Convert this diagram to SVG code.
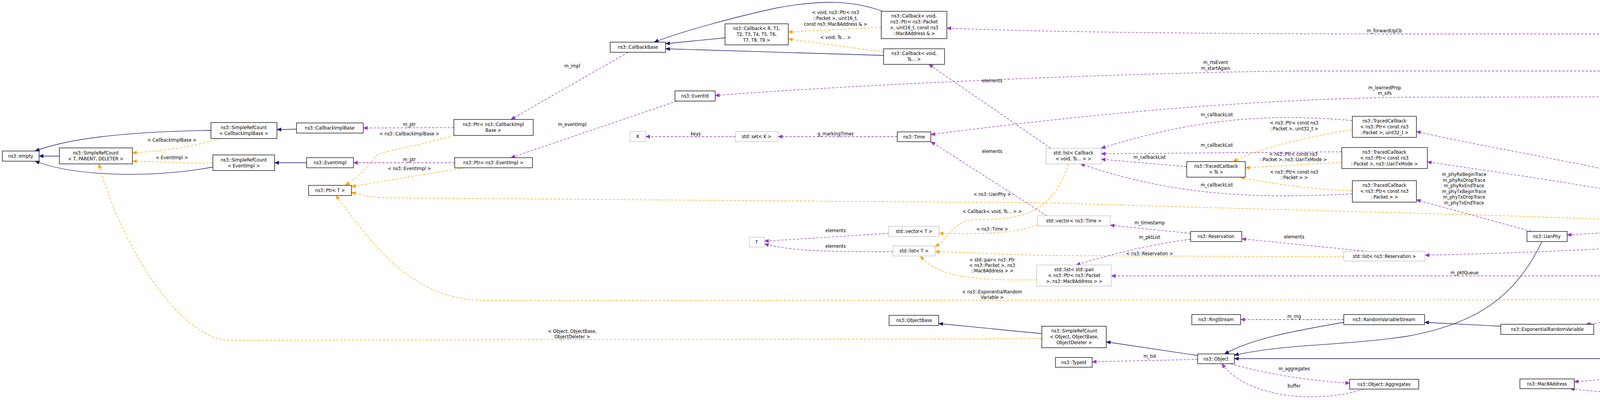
<svg xmlns="http://www.w3.org/2000/svg" width="4672" height="1025" viewBox="0 0 4672 1025">
<style>
text{font-family:"DejaVu Sans Condensed","DejaVu Sans",sans-serif;font-size:12.5px;fill:#000;text-anchor:middle}
.n rect{fill:#fff;stroke:#000;stroke-width:1.3}
.g rect{fill:#fff;stroke:#bfbfbf;stroke-width:1.3}
.cur rect{fill:#bfbfbf;stroke:#000;stroke-width:1.3}
.i{fill:none;stroke:#191970;stroke-width:1.3;marker-end:url(#mi)}
.m{fill:none;stroke:#9a32cd;stroke-width:1.3;stroke-dasharray:6,4;marker-end:url(#mm)}
.t{fill:none;stroke:#ffa500;stroke-width:1.3;stroke-dasharray:6,4;marker-end:url(#mt)}
</style>
<defs>
<marker id="mi" markerWidth="12" markerHeight="10" refX="11" refY="5" orient="auto" markerUnits="userSpaceOnUse"><path d="M0,0 L12,5 L0,10 z" fill="#191970"/></marker>
<marker id="mm" markerWidth="12" markerHeight="10" refX="11" refY="5" orient="auto" markerUnits="userSpaceOnUse"><path d="M0,0 L12,5 L0,10 z" fill="#9a32cd"/></marker>
<marker id="mt" markerWidth="12" markerHeight="10" refX="11" refY="5" orient="auto" markerUnits="userSpaceOnUse"><path d="M0,0 L12,5 L0,10 z" fill="#ffa500"/></marker>
</defs>
<rect width="4672" height="1025" fill="#fff"/>
<g id="edges">
<path class="i" d="M152,400 L100,400"/>
<path class="i" d="M540,334 C400,336 200,345 90,387"/>
<path class="i" d="M545,428 C400,455 200,455 90,413"/>
<path class="i" d="M759,331 L709,332"/>
<path class="i" d="M785,417 L703,417"/>
<path class="i" d="M1856,97 L1704,112"/>
<path class="i" d="M2260,29 C2180,0 2100,0 1990,20 C1850,50 1720,90 1675,108"/>
<path class="i" d="M2262,142 L1704,125"/>
<path class="i" d="M2667,855 L2403,829"/>
<path class="i" d="M3066,911 L2832,876"/>
<path class="i" d="M3440,826 C3300,850 3200,870 3135,907"/>
<path class="i" d="M3947,620 C3880,760 3780,830 3600,862 C3420,888 3300,880 3160,910"/>
<path class="i" d="M4299,919 L3160,919"/>
<path class="i" d="M4605,594 C4580,750 4460,850 4375,907"/>
<path class="i" d="M3842,836 L3647,826"/>
<path class="t" d="M563,355 C480,380 400,388 339,392"/>
<path class="t" d="M545,418 C450,418 400,414 339,413"/>
<path class="t" d="M2667,868 L591,872 C450,872 300,600 253,420"/>
<path class="t" d="M1162,347 C1050,380 980,385 962,400 C940,430 920,450 884,475"/>
<path class="t" d="M1187,430 L900,478"/>
<path class="t" d="M4253,571 C4100,555 3300,540 2700,520 L1000,507 C950,507 930,500 900,493"/>
<path class="t" d="M4253,768 L1244,770 C1050,770 950,620 860,501"/>
<path class="t" d="M2256,70 L2018,82"/>
<path class="t" d="M2262,133 L2018,100"/>
<path class="t" d="M2736,420 C2700,520 2650,565 2510,562 C2440,560 2430,610 2394,632"/>
<path class="t" d="M2656,575 C2600,600 2500,600 2404,598"/>
<path class="t" d="M2654,717 C2500,720 2400,710 2356,656"/>
<path class="t" d="M3440,658 L2700,655 C2550,652 2450,645 2394,645"/>
<path class="t" d="M3462,332 C3350,350 3220,380 3157,414"/>
<path class="t" d="M3435,416 L3188,430"/>
<path class="t" d="M3462,489 C3350,485 3250,470 3175,454"/>
<path class="m" d="M1608,134 L1308,306"/>
<path class="m" d="M1162,327 L930,328"/>
<path class="m" d="M1164,417 L905,417"/>
<path class="m" d="M1733,259 L1308,404"/>
<path class="m" d="M1883,350 L1653,350"/>
<path class="m" d="M2297,350 L1992,350"/>
<path class="m" d="M2690,380 L2378,165"/>
<path class="m" d="M2275,598 L1957,618"/>
<path class="m" d="M2286,645 C2150,645 2030,645 1957,625"/>
<path class="m" d="M2680,553 L2383,363"/>
<path class="m" d="M4610,568 C4600,400 4560,182 4370,182 L3300,182 C2700,190 2000,230 1831,245"/>
<path class="m" d="M4620,568 C4610,300 4560,87 4377,87 L3600,87 C3000,87 2600,80 2424,72"/>
<path class="m" d="M4603,568 C4590,400 4540,248 4370,248 L3600,249 C3200,255 2800,290 2383,345"/>
<path class="m" d="M3462,309 C3300,295 3100,290 2819,380"/>
<path class="m" d="M3435,389 L2819,394"/>
<path class="m" d="M3038,427 L2819,408"/>
<path class="m" d="M3462,497 C3200,510 3000,500 2766,420"/>
<path class="m" d="M4560,568 C4300,450 3900,400 3626,337"/>
<path class="m" d="M4550,572 C4300,510 3900,450 3654,415"/>
<path class="m" d="M3920,593 L3626,512"/>
<path class="m" d="M4550,581 L4444,581"/>
<path class="m" d="M4260,587 L4012,602"/>
<path class="m" d="M4550,592 C4300,640 3800,650 3648,654"/>
<path class="m" d="M3500,644 L3179,612"/>
<path class="m" d="M3048,598 L2842,577"/>
<path class="m" d="M3048,613 C2950,625 2850,650 2755,679"/>
<path class="m" d="M4590,594 C4550,650 4480,707 4370,707 L2845,707"/>
<path class="m" d="M4590,594 C4560,680 4510,740 4449,765"/>
<path class="m" d="M4283,788 C4200,810 4120,825 4060,831"/>
<path class="m" d="M3440,819 L3176,819"/>
<path class="m" d="M3066,921 L2796,927"/>
<path class="m" d="M3150,932 C3250,960 3350,975 3455,982"/>
<path class="m" d="M3490,997 C3400,1030 3200,1030 3128,932"/>
<path class="m" d="M4310,932 C4200,960 4100,975 4030,978"/>
<path class="m" d="M4620,594 C4620,800 4500,1020 4300,1015 C4150,1010 4050,1000 4020,996"/>
</g>
<g id="labels">
<text x="440" y="363">&lt; CallbackImplBase &gt;</text>
<text x="440" y="408">&lt; EventImpl &gt;</text>
<text x="1465" y="853">&lt; Object, ObjectBase,</text>
<text x="1465" y="867">ObjectDeleter &gt;</text>
<text x="1048" y="323">m_ptr</text>
<text x="1048" y="347">&lt; ns3::CallbackImplBase &gt;</text>
<text x="1048" y="413">m_ptr</text>
<text x="1048" y="436">&lt; ns3::EventImpl &gt;</text>
<text x="1465" y="173">m_impl</text>
<text x="1465" y="323">m_eventImpl</text>
<text x="1781" y="347">keys</text>
<text x="2139" y="36">&lt; void, ns3::Ptr&lt; ns3</text>
<text x="2139" y="51">::Packet &gt;, uint16_t,</text>
<text x="2139" y="66">const ns3::Mac8Address &amp; &gt;</text>
<text x="2139" y="100">&lt; void, Ts... &gt;</text>
<text x="2540" y="211">elements</text>
<text x="2540" y="392">elements</text>
<text x="2139" y="347">g_markingTimes</text>
<text x="2540" y="502">&lt; ns3::UanPhy &gt;</text>
<text x="2139" y="595">elements</text>
<text x="2139" y="635">elements</text>
<text x="2540" y="546">&lt; Callback&lt; void, Ts... &gt; &gt;</text>
<text x="2540" y="591">&lt; ns3::Time &gt;</text>
<text x="2540" y="670">&lt; std::pair&lt; ns3::Ptr</text>
<text x="2540" y="684">&lt; ns3::Packet &gt;, ns3</text>
<text x="2540" y="698">::Mac8Address &gt; &gt;</text>
<text x="2540" y="752">&lt; ns3::ExponentialRandom</text>
<text x="2540" y="766">Variable &gt;</text>
<text x="3544" y="83">m_forwardUpCb</text>
<text x="3112" y="164">m_rtsEvent</text>
<text x="3112" y="179">m_startAgain</text>
<text x="3545" y="229">m_learnedProp</text>
<text x="3545" y="243">m_sifs</text>
<text x="3115" y="298">m_callbackList</text>
<text x="3115" y="376">m_callbackList</text>
<text x="2943" y="407">m_callbackList</text>
<text x="3115" y="478">m_callbackList</text>
<text x="3313" y="319">&lt; ns3::Ptr&lt; const ns3</text>
<text x="3313" y="334">::Packet &gt;, uint32_t &gt;</text>
<text x="3311" y="399">&lt; ns3::Ptr&lt; const ns3</text>
<text x="3311" y="413">::Packet &gt;, ns3::UanTxMode &gt;</text>
<text x="3313" y="445">&lt; ns3::Ptr&lt; const ns3</text>
<text x="3313" y="459">::Packet &gt; &gt;</text>
<text x="4167" y="400">m_dequeueLogger</text>
<text x="4167" y="415">m_enqueueLogger</text>
<text x="4168" y="475">m_rxLogger</text>
<text x="3748" y="451">m_phyRxBeginTrace</text>
<text x="3748" y="465.5">m_phyRxDropTrace</text>
<text x="3748" y="480">m_phyRxEndTrace</text>
<text x="3748" y="494.5">m_phyTxBeginTrace</text>
<text x="3748" y="509">m_phyTxDropTrace</text>
<text x="3748" y="523.5">m_phyTxEndTrace</text>
<text x="4500" y="577">m_phy</text>
<text x="4169" y="585">m_ptr</text>
<text x="4169" y="622">m_resList</text>
<text x="3749" y="703">m_pktQueue</text>
<text x="4500" y="736">m_ev</text>
<text x="4169" y="798">m_ptr</text>
<text x="4169" y="949">m_address</text>
<text x="4354" y="955">m_assocAddr</text>
<text x="2943" y="575">m_timestamp</text>
<text x="2943" y="612">m_pktList</text>
<text x="2943" y="654">&lt; ns3::Reservation &gt;</text>
<text x="3313" y="611">elements</text>
<text x="3313" y="815">m_rng</text>
<text x="2943" y="917">m_tid</text>
<text x="3313" y="949">m_aggregates</text>
<text x="3313" y="993">buffer</text>
</g>
<g id="empty" class="n"><rect x="6" y="387" width="94" height="26"/><text x="53" y="404">ns3::empty</text></g>
<g id="srcTPD" class="n"><rect x="152" y="379" width="187" height="41"/><text x="245" y="396">ns3::SimpleRefCount</text><text x="245" y="411">&lt; T, PARENT, DELETER &gt;</text></g>
<g id="srcCIB" class="n"><rect x="540" y="314" width="169" height="41"/><text x="624" y="331">ns3::SimpleRefCount</text><text x="624" y="346">&lt; CallbackImplBase &gt;</text></g>
<g id="srcEI" class="n"><rect x="545" y="397" width="158" height="40"/><text x="624" y="414">ns3::SimpleRefCount</text><text x="624" y="429">&lt; EventImpl &gt;</text></g>
<g id="cib" class="n"><rect x="759" y="315" width="171" height="26"/><text x="844" y="332">ns3::CallbackImplBase</text></g>
<g id="ei" class="n"><rect x="785" y="404" width="120" height="26"/><text x="845" y="421">ns3::EventImpl</text></g>
<g id="ptrT" class="n"><rect x="790" y="475" width="110" height="26"/><text x="845" y="492">ns3::Ptr&lt; T &gt;</text></g>
<g id="cbBase" class="n"><rect x="1562" y="108" width="142" height="26"/><text x="1633" y="125">ns3::CallbackBase</text></g>
<g id="ptrCIB" class="n"><rect x="1162" y="306" width="203" height="41"/><text x="1263" y="323">ns3::Ptr&lt; ns3::CallbackImpl</text><text x="1263" y="338">Base &gt;</text></g>
<g id="ptrEI" class="n"><rect x="1164" y="404" width="199" height="26"/><text x="1263" y="421">ns3::Ptr&lt; ns3::EventImpl &gt;</text></g>
<g id="eventId" class="n"><rect x="1728" y="233" width="103" height="26"/><text x="1779" y="250">ns3::EventId</text></g>
<g id="K" class="g"><rect x="1613" y="337" width="40" height="26"/><text x="1633" y="354">K</text></g>
<g id="cbR" class="n"><rect x="1856" y="61" width="162" height="54"/><text x="1937" y="77">ns3::Callback&lt; R, T1,</text><text x="1937" y="92">T2, T3, T4, T5, T6,</text><text x="1937" y="107">T7, T8, T9 &gt;</text></g>
<g id="cbVP" class="n"><rect x="2256" y="29" width="168" height="70"/><text x="2340" y="45">ns3::Callback&lt; void,</text><text x="2340" y="60">ns3::Ptr&lt; ns3::Packet</text><text x="2340" y="75">&gt;, uint16_t, const ns3</text><text x="2340" y="90">::Mac8Address &amp; &gt;</text></g>
<g id="cbVT" class="n"><rect x="2262" y="125" width="156" height="40"/><text x="2340" y="141">ns3::Callback&lt; void,</text><text x="2340" y="156">Ts... &gt;</text></g>
<g id="setK" class="g"><rect x="1883" y="337" width="109" height="26"/><text x="1937" y="354">std::set&lt; K &gt;</text></g>
<g id="time" class="n"><rect x="2297" y="338" width="86" height="25"/><text x="2340" y="355">ns3::Time</text></g>
<g id="listCb" class="g"><rect x="2678" y="380" width="141" height="40"/><text x="2748" y="396">std::list&lt; Callback</text><text x="2748" y="411">&lt; void, Ts... &gt; &gt;</text></g>
<g id="T" class="g"><rect x="1918" y="608" width="39" height="25"/><text x="1937" y="625">T</text></g>
<g id="vecT" class="g"><rect x="2275" y="580" width="129" height="26"/><text x="2340" y="597">std::vector&lt; T &gt;</text></g>
<g id="listT" class="g"><rect x="2286" y="630" width="108" height="26"/><text x="2340" y="647">std::list&lt; T &gt;</text></g>
<g id="objBase" class="n"><rect x="2276" y="808" width="127" height="26"/><text x="2340" y="825">ns3::ObjectBase</text></g>
<g id="srcObj" class="n"><rect x="2667" y="836" width="165" height="55"/><text x="2750" y="852">ns3::SimpleRefCount</text><text x="2750" y="867">&lt; Object, ObjectBase,</text><text x="2750" y="882">ObjectDeleter &gt;</text></g>
<g id="vecTime" class="g"><rect x="2656" y="553" width="186" height="26"/><text x="2749" y="570">std::vector&lt; ns3::Time &gt;</text></g>
<g id="listPair" class="g"><rect x="2654" y="679" width="191" height="54"/><text x="2750" y="695">std::list&lt; std::pair</text><text x="2750" y="710">&lt; ns3::Ptr&lt; ns3::Packet</text><text x="2750" y="725">&gt;, ns3::Mac8Address &gt; &gt;</text></g>
<g id="tc32" class="n"><rect x="3462" y="298" width="164" height="54"/><text x="3544" y="314">ns3::TracedCallback</text><text x="3544" y="329">&lt; ns3::Ptr&lt; const ns3</text><text x="3544" y="344">::Packet &gt;, uint32_t &gt;</text></g>
<g id="tcMode" class="n"><rect x="3435" y="378" width="219" height="54"/><text x="3544" y="394">ns3::TracedCallback</text><text x="3544" y="409">&lt; ns3::Ptr&lt; const ns3</text><text x="3544" y="424">::Packet &gt;, ns3::UanTxMode &gt;</text></g>
<g id="tcPkt" class="n"><rect x="3462" y="463" width="164" height="55"/><text x="3544" y="479">ns3::TracedCallback</text><text x="3544" y="494">&lt; ns3::Ptr&lt; const ns3</text><text x="3544" y="509">::Packet &gt; &gt;</text></g>
<g id="tcTs" class="n"><rect x="3038" y="414" width="150" height="40"/><text x="3113" y="430">ns3::TracedCallback</text><text x="3113" y="445">&lt; Ts &gt;</text></g>
<g id="uanMacRc" class="cur"><rect x="4550" y="568" width="120" height="26"/><text x="4610" y="585">ns3::UanMacRc</text></g>
<g id="ptrUanPhy" class="n"><rect x="4260" y="568" width="184" height="26"/><text x="4352" y="585">ns3::Ptr&lt; ns3::UanPhy &gt;</text></g>
<g id="uanPhy" class="n"><rect x="3909" y="593" width="103" height="26"/><text x="3960" y="610">ns3::UanPhy</text></g>
<g id="listRes" class="g"><rect x="3440" y="644" width="208" height="25"/><text x="3544" y="661">std::list&lt; ns3::Reservation &gt;</text></g>
<g id="ptrERV" class="n"><rect x="4254" y="748" width="195" height="40"/><text x="4351" y="764">ns3::Ptr&lt; ns3::Exponential</text><text x="4351" y="779">RandomVariable &gt;</text></g>
<g id="erv" class="n"><rect x="3842" y="831" width="238" height="26"/><text x="3961" y="848">ns3::ExponentialRandomVariable</text></g>
<g id="uanMac" class="n"><rect x="4299" y="907" width="106" height="25"/><text x="4352" y="924">ns3::UanMac</text></g>
<g id="mac8" class="n"><rect x="3891" y="971" width="139" height="25"/><text x="3960" y="988">ns3::Mac8Address</text></g>
<g id="reservation" class="n"><rect x="3048" y="593" width="131" height="26"/><text x="3113" y="610">ns3::Reservation</text></g>
<g id="rng" class="n"><rect x="3051" y="806" width="125" height="26"/><text x="3113" y="823">ns3::RngStream</text></g>
<g id="rvs" class="n"><rect x="3440" y="806" width="207" height="26"/><text x="3543" y="823">ns3::RandomVariableStream</text></g>
<g id="object" class="n"><rect x="3066" y="907" width="94" height="25"/><text x="3113" y="924">ns3::Object</text></g>
<g id="typeId" class="n"><rect x="2702" y="916" width="94" height="25"/><text x="2749" y="933">ns3::TypeId</text></g>
<g id="aggr" class="n"><rect x="3455" y="972" width="177" height="25"/><text x="3543" y="989">ns3::Object::Aggregates</text></g>
</svg>
